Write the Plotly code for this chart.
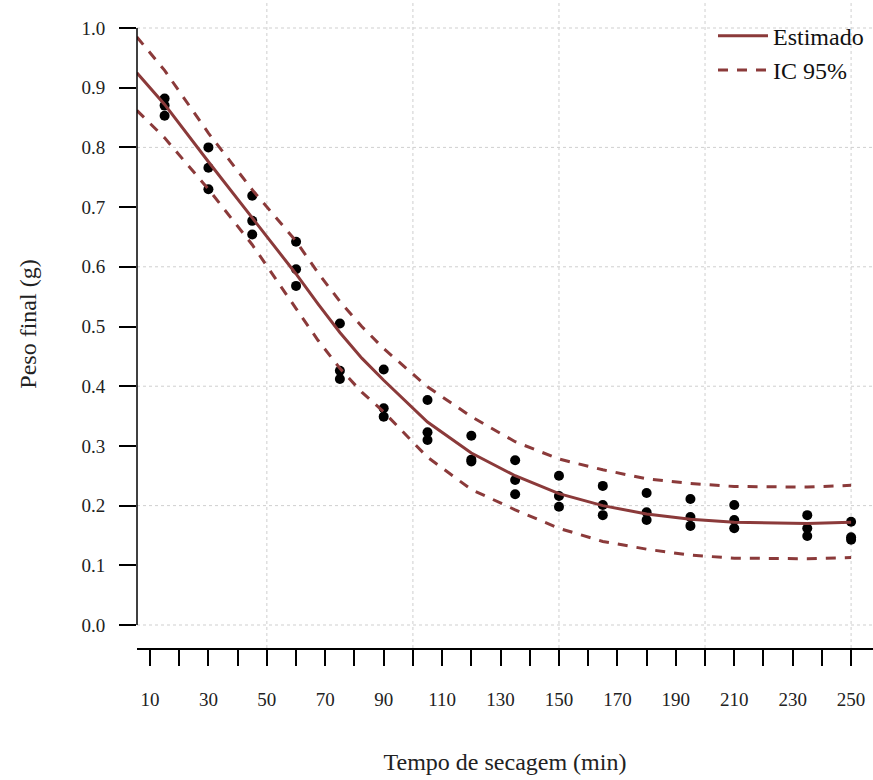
import plotly.graph_objects as go

# Observed data
tempo = [15, 15, 15, 30, 30, 30, 45, 45, 45, 60, 60, 60, 75, 75, 75,
         90, 90, 90, 105, 105, 105, 120, 120, 120, 135, 135, 135,
         150, 150, 150, 165, 165, 165, 180, 180, 180, 195, 195, 195,
         210, 210, 210, 235, 235, 235, 250, 250, 250]
peso = [0.882, 0.870, 0.853, 0.800, 0.766, 0.730, 0.719, 0.677, 0.654,
        0.642, 0.596, 0.568, 0.505, 0.426, 0.412, 0.428, 0.363, 0.349,
        0.377, 0.323, 0.310, 0.317, 0.277, 0.274, 0.276, 0.243, 0.219,
        0.250, 0.216, 0.198, 0.233, 0.201, 0.184, 0.221, 0.189, 0.176,
        0.211, 0.181, 0.166, 0.201, 0.176, 0.162, 0.184, 0.162, 0.149,
        0.173, 0.147, 0.143]

# Fitted curve and 95% CI
fit_x = [5.5, 15, 30, 45, 60, 67.5, 75, 82.5, 90, 105, 120, 135, 150, 165, 180, 195, 210, 235, 250]
fit_y = [0.925, 0.872, 0.776, 0.683, 0.588, 0.538, 0.490, 0.447, 0.410, 0.340, 0.288, 0.250,
         0.220, 0.200, 0.186, 0.177, 0.172, 0.170, 0.172]
ic_sup = [0.985, 0.929, 0.824, 0.729, 0.643, 0.590, 0.542, 0.500, 0.463, 0.399, 0.349, 0.307,
          0.278, 0.260, 0.245, 0.237, 0.232, 0.231, 0.234]
ic_inf = [0.862, 0.816, 0.730, 0.637, 0.530, 0.477, 0.430, 0.390, 0.357, 0.281, 0.227, 0.193,
          0.162, 0.140, 0.127, 0.117, 0.112, 0.111, 0.113]

x_ticks = list(range(10, 251, 10))
x_labels = [str(v) if (v - 10) % 20 == 0 else "" for v in x_ticks]
y_ticks = [round(i * 0.1, 1) for i in range(11)]
y_labels = [f"{v:.1f}" for v in y_ticks]
grid_x = [50, 100, 150, 200, 250]
grid_y = [0.0, 0.2, 0.4, 0.6, 0.8, 1.0]

LINE = "#8B3A3A"
FONT = "Liberation Serif, Times New Roman, serif"
DASH = "10px,9px"

fig = go.Figure()
fig.add_trace(go.Scatter(x=tempo, y=peso, mode="markers",
                         marker=dict(color="black", size=10), showlegend=False))
fig.add_trace(go.Scatter(x=fit_x, y=fit_y, mode="lines", name="Estimado",
                         line=dict(color=LINE, width=3)))
fig.add_trace(go.Scatter(x=fit_x, y=ic_sup, mode="lines", name="IC 95%",
                         line=dict(color=LINE, width=3, dash=DASH)))
fig.add_trace(go.Scatter(x=fit_x, y=ic_inf, mode="lines", name="IC 95%",
                         showlegend=False,
                         line=dict(color=LINE, width=3, dash=DASH)))

shapes = []
for gx in grid_x:
    shapes.append(dict(type="line", xref="x", yref="paper", x0=gx, x1=gx, y0=0, y1=1,
                       line=dict(color="#cfcfcf", width=1, dash="dot"), layer="below"))
for gy in grid_y:
    shapes.append(dict(type="line", xref="paper", yref="y", x0=0, x1=1, y0=gy, y1=gy,
                       line=dict(color="#cfcfcf", width=1, dash="dot"), layer="below"))
shapes.append(dict(type="line", xref="paper", yref="y", x0=0, x1=0,
                   y0=y_ticks[0], y1=y_ticks[-1],
                   line=dict(color="black", width=1.5)))

fig.update_layout(
    width=873, height=780,
    margin=dict(l=137, r=0, t=0, b=132, autoexpand=False),
    plot_bgcolor="white", paper_bgcolor="white",
    font=dict(family=FONT, color="#222222"),
    shapes=shapes,
    showlegend=True,
    legend=dict(x=0.7826, xanchor="left", y=0.979, yanchor="top",
                itemwidth=50,
                font=dict(family=FONT, size=24, color="#111111"),
                tracegroupgap=0, bgcolor="rgba(0,0,0,0)"),
    xaxis=dict(range=[5.55, 257.5], tickmode="array", tickvals=x_ticks, ticktext=x_labels,
               ticks="outside", ticklen=16, tickwidth=1.5, tickcolor="black",
               showline=True, linecolor="black", linewidth=1.5,
               showgrid=False, zeroline=False,
               tickfont=dict(size=19, family=FONT), ticklabelstandoff=17,
               title=dict(text="Tempo de secagem (min)", font=dict(size=24, family=FONT),
                          standoff=45)),
    yaxis=dict(range=[-0.0385, 1.0469], tickmode="array", tickvals=y_ticks, ticktext=y_labels,
               ticks="outside", ticklen=17, tickwidth=1.5, tickcolor="black",
               showline=False, showgrid=False, zeroline=False,
               tickfont=dict(size=19, family=FONT), ticklabelstandoff=10,
               title=dict(text="Peso final (g)", font=dict(size=24, family=FONT),
                          standoff=38)),
)

fig.write_html("out.html", config={"displayModeBar": False},
               post_script="document.body.style.margin='0';document.body.style.padding='0';")
